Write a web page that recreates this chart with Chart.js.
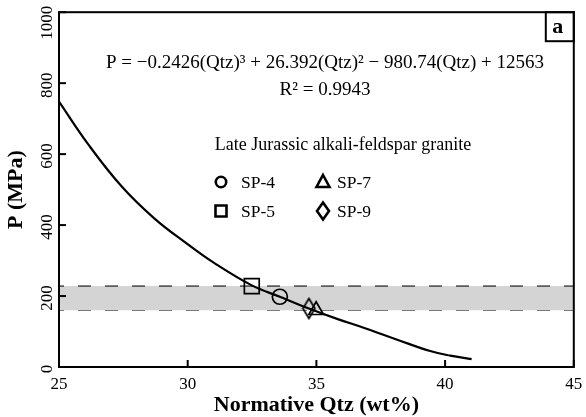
<!DOCTYPE html>
<html><head><meta charset="utf-8">
<script src="https://cdn.jsdelivr.net/npm/chart.js@4.4.1/dist/chart.umd.min.js"></script>
<style>html,body{margin:0;padding:0;background:#fff;}</style>
</head><body>
<canvas id="c" width="586" height="417"></canvas>
<script>
// ---- data ----
const curveQtz = [25.0, 26.13, 27.42, 28.70, 29.98, 31.01, 32.49, 33.58, 34.71, 35.83, 36.86, 38.14, 39.42, 40.2, 41.03];
const curveP   = [748, 628, 510, 419, 347, 294, 230, 198, 165, 135, 110, 77, 45, 32, 22];
const sampleNames = ['SP-4', 'SP-5', 'SP-7', 'SP-9'];
const sampleQtz   = [33.58, 32.49, 34.99, 34.71];
const sampleP     = [198, 228, 160, 165];
const bandRange   = [160, 228];   // P band (MPa)
const xRange      = [25, 45];
const yRange      = [0, 1000];
const xStep = 5, yStep = 200;
const equationText = 'P = \u22120.2426(Qtz)\u00b3 + 26.392(Qtz)\u00b2 \u2212 980.74(Qtz) + 12563';
const r2Text = 'R\u00b2 = 0.9943';
const legendTitle = 'Late Jurassic alkali-feldspar granite';
const panelLabel = 'a';
const xTitle = 'Normative Qtz (wt%)';
const yTitle = 'P (MPa)';

const SERIF = '"Liberation Serif", "Times New Roman", serif';

// tall diamond point style
function diamondCanvas(w, h, lw) {
  const c = document.createElement('canvas');
  c.width = w + 2 * lw; c.height = h + 2 * lw;
  const g = c.getContext('2d');
  g.strokeStyle = '#000'; g.lineWidth = lw; g.lineJoin = 'miter';
  const cx = c.width / 2, cy = c.height / 2;
  g.beginPath();
  g.moveTo(cx, cy - h / 2); g.lineTo(cx + w / 2, cy); g.lineTo(cx, cy + h / 2); g.lineTo(cx - w / 2, cy); g.closePath();
  g.stroke();
  return c;
}
const diamondImg = diamondCanvas(12, 20, 1.7);

const styles = {
  'SP-4': {pointStyle: 'circle', radius: 7.5},
  'SP-5': {pointStyle: 'rect', radius: 10.5},
  'SP-7': {pointStyle: 'triangle', radius: 8.5},
  'SP-9': {pointStyle: diamondImg, radius: 10}
};

const sampleDatasets = sampleNames.map((n, i) => ({
  type: 'scatter',
  label: n,
  data: [{x: sampleQtz[i], y: sampleP[i]}],
  pointStyle: styles[n].pointStyle,
  pointRadius: styles[n].radius,
  pointBorderColor: '#000',
  pointBackgroundColor: 'rgba(0,0,0,0)',
  pointBorderWidth: 1.7,
  order: 0
}));

const deco = {
  id: 'deco',
  afterDraw(chart) {
    const {ctx, chartArea: a, scales: {x, y}} = chart;
    ctx.save();
    ctx.strokeStyle = '#000';
    ctx.lineWidth = 2;
    // inward ticks
    x.ticks.forEach(t => {
      const px = x.getPixelForValue(t.value);
      ctx.beginPath(); ctx.moveTo(px, a.bottom); ctx.lineTo(px, a.bottom - 7); ctx.stroke();
    });
    y.ticks.forEach(t => {
      const py = y.getPixelForValue(t.value);
      ctx.beginPath(); ctx.moveTo(a.left, py); ctx.lineTo(a.left + 7, py); ctx.stroke();
    });
    // frame
    ctx.strokeRect(a.left, a.top, a.right - a.left, a.bottom - a.top);
    // panel label box
    ctx.strokeRect(a.right - 28, a.top, 28, 29);
    ctx.fillStyle = '#000';
    ctx.font = 'bold 22px ' + SERIF;
    ctx.textAlign = 'center'; ctx.textBaseline = 'alphabetic';
    ctx.fillText(panelLabel, a.right - 16, a.top + 21);
    // equation
    ctx.font = '19px ' + SERIF;
    ctx.fillText(equationText, 325, 68);
    ctx.fillText(r2Text, 325, 95);
    // legend
    ctx.font = '18px ' + SERIF;
    ctx.fillText(legendTitle, 343, 150);
    ctx.font = '17.5px ' + SERIF;
    ctx.textAlign = 'left';
    const items = [
      {n: 'SP-4', mx: 221, my: 182, tx: 241},
      {n: 'SP-5', mx: 221, my: 211, tx: 241},
      {n: 'SP-7', mx: 323, my: 182, tx: 337},
      {n: 'SP-9', mx: 323, my: 211, tx: 337}
    ];
    ctx.lineWidth = 2.6;
    items.forEach(it => {
      ctx.beginPath();
      if (it.n === 'SP-4') {
        ctx.arc(it.mx, it.my, 5.2, 0, Math.PI * 2);
      } else if (it.n === 'SP-5') {
        ctx.rect(it.mx - 5.5, it.my - 5.5, 11, 11);
      } else if (it.n === 'SP-7') {
        ctx.moveTo(it.mx, it.my - 7); ctx.lineTo(it.mx + 6.5, it.my + 5); ctx.lineTo(it.mx - 6.5, it.my + 5); ctx.closePath();
      } else {
        ctx.moveTo(it.mx, it.my - 8.5); ctx.lineTo(it.mx + 6, it.my); ctx.lineTo(it.mx, it.my + 8.5); ctx.lineTo(it.mx - 6, it.my); ctx.closePath();
      }
      ctx.stroke();
      ctx.fillText(it.n, it.tx, it.my + 6);
    });
    ctx.restore();
  }
};

new Chart(document.getElementById('c'), {
  type: 'line',
  data: {
    datasets: [
      {
        label: 'curve',
        data: curveQtz.map((q, i) => ({x: q, y: curveP[i]})),
        borderColor: '#000', borderWidth: 2.2,
        pointRadius: 0, fill: false,
        tension: 0.4,
        order: 1
      },
      ...sampleDatasets,
      {
        label: 'bandTop',
        data: [{x: xRange[0], y: bandRange[1]}, {x: xRange[1], y: bandRange[1]}],
        borderColor: '#5c5c5c', borderWidth: 1.7, borderDash: [13, 14], borderDashOffset: 8,
        pointRadius: 0, fill: '+1', backgroundColor: '#d4d4d4',
        order: 5
      },
      {
        label: 'bandBottom',
        data: [{x: xRange[0], y: bandRange[0]}, {x: xRange[1], y: bandRange[0]}],
        borderColor: '#5c5c5c', borderWidth: 1.7, borderDash: [13, 14], borderDashOffset: 8,
        pointRadius: 0, fill: false,
        order: 6
      }
    ]
  },
  options: {
    responsive: false,
    animation: false,
    devicePixelRatio: 1,
    layout: {padding: {left: 0, right: 8, top: 11, bottom: 0}},
    plugins: {legend: {display: false}, tooltip: {enabled: false}},
    scales: {
      x: {
        type: 'linear', min: xRange[0], max: xRange[1],
        ticks: {stepSize: xStep, padding: 7, color: '#000', font: {family: SERIF, size: 17}, callback: v => String(v)},
        grid: {display: false, drawTicks: false},
        border: {display: false},
        title: {display: true, text: xTitle, color: '#000', font: {family: SERIF, size: 22, weight: 'bold', lineHeight: 1}, padding: {top: 0, bottom: 1}},
        afterFit(s) { s.height = 50; s.paddingLeft = 0; s.paddingRight = 0; }
      },
      y: {
        type: 'linear', min: yRange[0], max: yRange[1],
        // top label is nudged inward (down) with trailing spaces so it stays inside the canvas, as in the reference
        ticks: {stepSize: yStep, minRotation: 90, maxRotation: 90, crossAlign: 'center', padding: -14, labelOffset: 2,
                color: '#000', font: {family: SERIF, size: 17},
                callback: v => v === yRange[1] ? String(v) + '    ' : String(v)},
        grid: {display: false, drawTicks: false},
        border: {display: false},
        title: {display: true, text: yTitle, color: '#000', font: {family: SERIF, size: 22, weight: 'bold', lineHeight: 1}, padding: {top: 5, bottom: 0}},
        afterFit(s) { s.width = 59; s.paddingTop = 0; s.paddingBottom = 0; }
      }
    }
  },
  plugins: [deco]
});
</script>
</body></html>
